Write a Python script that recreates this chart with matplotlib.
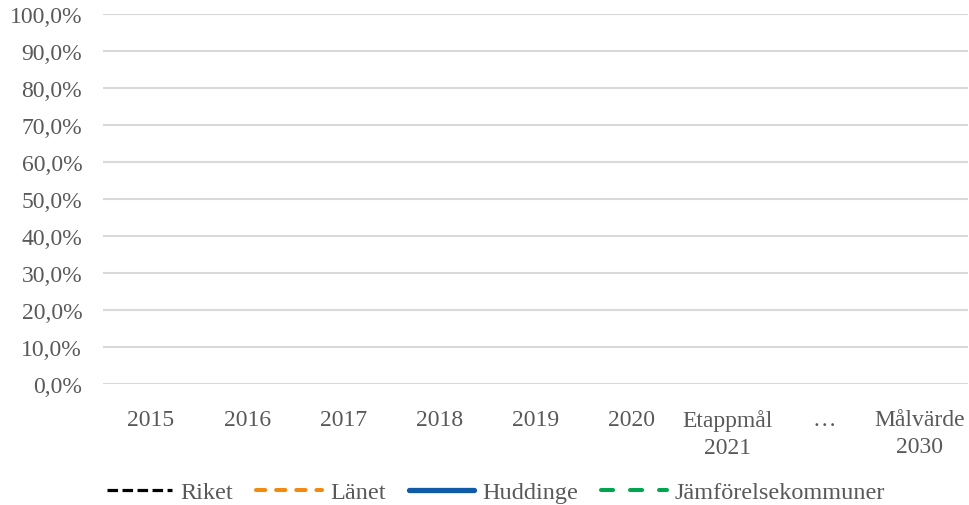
import matplotlib
matplotlib.use("Agg")
import matplotlib.pyplot as plt
import numpy as np

categories = ["2015", "2016", "2017", "2018", "2019", "2020", "Etappmål\n2021", "…", "Målvärde\n2030"]
riket = [None] * 9
lanet = [None] * 9
huddinge = [None] * 9
jamfor = [None] * 9
yticks = [0, 10, 20, 30, 40, 50, 60, 70, 80, 90, 100]

plt.rcParams['font.family'] = ['Liberation Serif', 'DejaVu Serif']
W, H = 969, 506
fig = plt.figure(figsize=(W / 100, H / 100), dpi=100)
ax = fig.add_axes([103 / W, 1 - 385 / H, (968 - 103) / W, (385 - 15) / H])

x = np.arange(len(categories))
def arr(v):
    return np.array([np.nan if a is None else a for a in v], dtype=float)

ax.plot(x, arr(riket), color="black", lw=2.3, ls=(0, (3.3, 1.4)), label="Riket")
ax.plot(x, arr(lanet), color="#F28A0F", lw=2.9, ls=(0, (2.3, 2.7)),
        dash_capstyle="round", label="Länet")
ax.plot(x, arr(huddinge), color="#0F5BA7", lw=3.8, solid_capstyle="round", label="Huddinge")
ax.plot(x, arr(jamfor), color="#00A550", lw=2.9, ls=(0, (3.0, 4.2)),
        dash_capstyle="round", label="Jämförelsekommuner")

ax.set_xlim(-0.5, len(categories) - 0.5)
ax.set_ylim(0, 100)
ax.set_yticks(yticks)
ax.set_yticklabels([f"{v:.1f}".replace(".", ",") + "%" for v in yticks])
ax.set_xticks(x)
ax.set_xticklabels(categories, linespacing=1.35)
for s in ax.spines.values():
    s.set_visible(False)
ax.tick_params(axis="both", length=0, colors="#595959", labelsize=17)
ax.tick_params(axis="y", pad=15)
ax.tick_params(axis="x", pad=18)
ax.grid(axis="y", color="#D9D9D9", lw=1.5)
ax.set_axisbelow(True)

leg = fig.legend(loc="center", bbox_to_anchor=(496 / W, 1 - 493 / H), ncol=4, frameon=False,
                 fontsize=17.5, handlelength=2.7, handletextpad=0.33, columnspacing=0.95,
                 labelcolor="#595959")
fig.savefig("out.png", dpi=100)
